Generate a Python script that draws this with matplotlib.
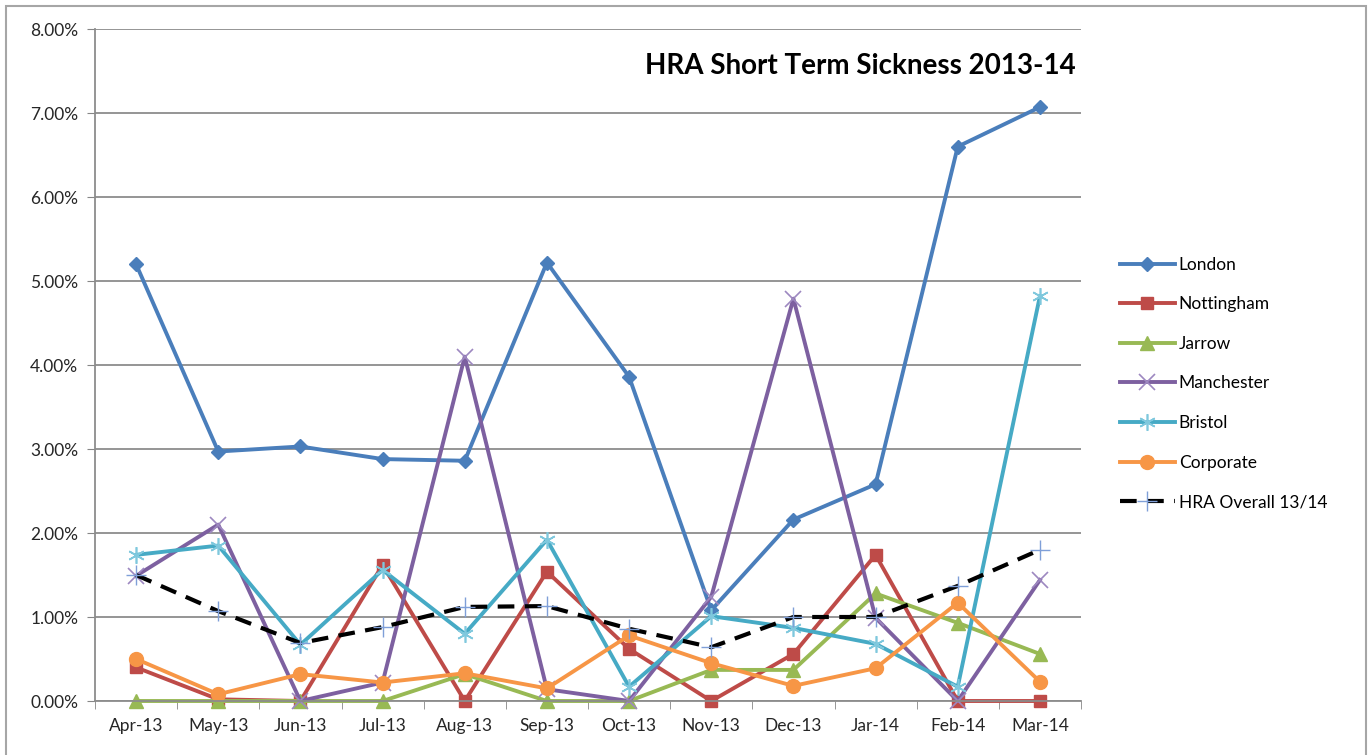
import matplotlib
matplotlib.use('Agg')
import matplotlib.pyplot as plt
from matplotlib.patches import Rectangle
from matplotlib.ticker import PercentFormatter
import numpy as np

months = ['Apr-13', 'May-13', 'Jun-13', 'Jul-13', 'Aug-13', 'Sep-13',
          'Oct-13', 'Nov-13', 'Dec-13', 'Jar-14', 'Feb-14', 'Mar-14']

london = [5.20, 2.97, 3.03, 2.88, 2.86, 5.22, 3.86, 1.08, 2.16, 2.58, 6.60, 7.07]
nottingham = [0.40, 0.02, 0.00, 1.62, 0.00, 1.54, 0.62, 0.00, 0.56, 1.74, 0.00, 0.00]
jarrow = [0.00, 0.00, 0.00, 0.00, 0.32, 0.00, 0.00, 0.37, 0.37, 1.28, 0.93, 0.56]
manchester = [1.49, 2.10, 0.00, 0.22, 4.10, 0.14, 0.00, 1.24, 4.79, 0.99, 0.00, 1.44]
bristol = [1.74, 1.85, 0.67, 1.56, 0.80, 1.92, 0.17, 1.01, 0.87, 0.68, 0.17, 4.82]
corporate = [0.50, 0.08, 0.32, 0.22, 0.33, 0.15, 0.78, 0.45, 0.18, 0.39, 1.17, 0.23]
hra_overall = [1.50, 1.07, 0.69, 0.88, 1.12, 1.13, 0.86, 0.64, 1.00, 1.00, 1.37, 1.80]

plt.rcParams['font.family'] = ['Lato', 'DejaVu Sans']

fig = plt.figure(figsize=(13.72, 7.55), dpi=100)
ax = fig.add_axes([95 / 1372, 1 - 701 / 755, 986 / 1372, 672 / 755])

x = np.arange(len(months))
lw = 2.8
ax.plot(x, london, color='#4A7EBB', lw=lw, marker='D', ms=7, label='London', clip_on=False)
ax.plot(x, nottingham, color='#BE4B48', lw=lw, marker='s', ms=9, label='Nottingham', clip_on=False)
ax.plot(x, jarrow, color='#98B954', lw=lw, marker='^', ms=10, label='Jarrow', clip_on=False)
ax.plot(x, manchester, color='#7D60A0', lw=lw, marker='x', ms=12, mew=1.2,
        mec='#9D88C0', label='Manchester', clip_on=False)
ax.plot(x, bristol, color='#46AAC5', lw=lw, marker=(6, 2, 0), ms=12, mew=1.2,
        mec='#7FC8DD', label='Bristol', clip_on=False)
ax.plot(x, corporate, color='#F79646', lw=lw, marker='o', ms=10, label='Corporate', clip_on=False)
ax.plot(x, hra_overall, color='black', lw=3, dashes=(4, 2.5), marker='+', ms=14,
        mew=1, mec='#7F9FD8', label='HRA Overall 13/14', clip_on=False)

ax.set_xlim(-0.5, len(months) - 0.5)
ax.set_ylim(0, 8)
ax.set_yticks(np.arange(0, 9, 1))
ax.yaxis.set_major_formatter(PercentFormatter(decimals=2))
ax.set_xticks(x)
ax.set_xticklabels(months)
ax.set_xticks(np.arange(-0.5, len(months), 1), minor=True)
ax.tick_params(axis='x', which='major', length=0, pad=12, labelsize=12.5, colors='#262626')
ax.tick_params(axis='x', which='minor', length=6, color='#868686')
ax.tick_params(axis='y', length=6, color='#868686', labelsize=12.5, colors='#262626', pad=6)

ax.grid(axis='y', color='#8C8C8C', lw=1.3)
ax.set_axisbelow(True)
for s in ['top', 'right']:
    ax.spines[s].set_visible(False)
for s in ['left', 'bottom']:
    ax.spines[s].set_color('#8C8C8C')
    ax.spines[s].set_linewidth(1.3)

ax.text(0.995, 0.945, 'HRA Short Term Sickness 2013-14', transform=ax.transAxes,
        ha='right', va='center', fontsize=20, fontweight='bold', color='black')

leg = fig.legend(loc='upper left', bbox_to_anchor=(1104 / 1372, 1 - 241 / 755),
                 frameon=False, fontsize=12.5, handlelength=3.2, labelspacing=1.36,
                 handletextpad=0.2)

# outer chart border
fig.patches.append(Rectangle((6 / 1372, -0.05), 1360 / 1372, 1.05 - 6 / 755,
                             transform=fig.transFigure, fill=False,
                             edgecolor='#A6A6A6', lw=1.5))

fig.savefig('out.png', dpi=100, facecolor='white')
